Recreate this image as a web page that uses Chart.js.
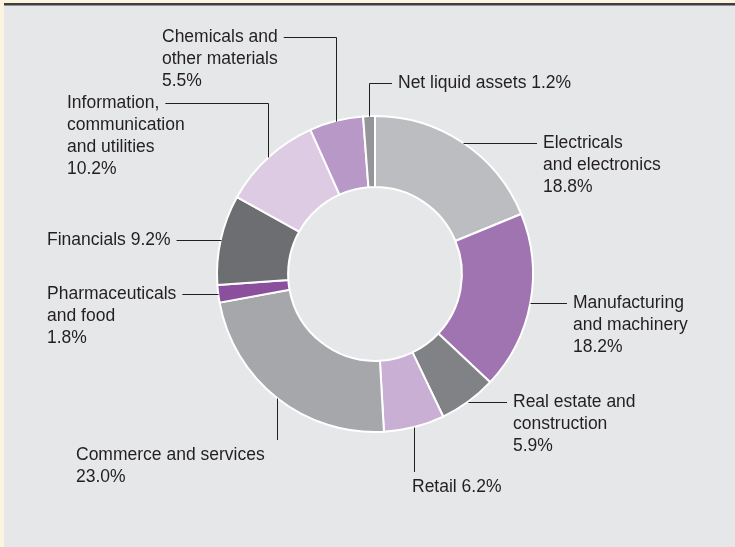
<!DOCTYPE html>
<html>
<head>
<meta charset="utf-8">
<script src="https://cdn.jsdelivr.net/npm/chart.js@4.4.1/dist/chart.umd.min.js"></script>
<style>
  html, body { margin: 0; padding: 0; background: #fbf5df; }
  body { width: 735px; height: 547px; position: relative; overflow: hidden; }
  #panel { position: absolute; left: 4px; top: 3px; width: 760px; height: 580px; background: #e6e7e8; }
  #rule1 { position: absolute; left: 4px; top: 3px; width: 760px; height: 2px; background: #3e3e3f; }
  #rule2 { position: absolute; left: 4px; top: 5px; width: 760px; height: 1px; background: #939393; }
  #wrap { position: absolute; left: 0; top: 0; width: 735px; height: 547px; }
</style>
</head>
<body>
<div id="panel"></div>
<div id="rule1"></div>
<div id="rule2"></div>
<div id="wrap"><canvas id="sectorChart"></canvas></div>
<script>
// Sektor, searah jarum jam mulai dari atas
var categories = [
    "Electricals and electronics",
    "Manufacturing and machinery",
    "Real estate and construction",
    "Retail",
    "Commerce and services",
    "Pharmaceuticals and food",
    "Financials",
    "Information, communication and utilities",
    "Chemicals and other materials",
    "Net liquid assets",
];

// Persentase tiap sektor
var shares = [18.8, 18.2, 5.9, 6.2, 23.0, 1.8, 9.2, 10.2, 5.5, 1.2];

// Teks label, {v} diganti dengan persentase
var labelLines = [
    ["Electricals", "and electronics", "{v}"],
    ["Manufacturing", "and machinery", "{v}"],
    ["Real estate and", "construction", "{v}"],
    ["Retail {v}"],
    ["Commerce and services", "{v}"],
    ["Pharmaceuticals", "and food", "{v}"],
    ["Financials {v}"],
    ["Information,", "communication", "and utilities", "{v}"],
    ["Chemicals and", "other materials", "{v}"],
    ["Net liquid assets {v}"],
];

var sliceColors = [
    "#bcbdc0", "#a074b0", "#818285", "#c9afd3", "#a6a7aa",
    "#8c4f9e", "#6d6e71", "#dccbe3", "#b898c7", "#939598",
];

// Posisi label (layout saja)
var labelLayout = [
    { type: "right", x: 543 },
    { type: "right", x: 573 },
    { type: "right", x: 513 },
    { type: "down", x: 412, y: 487 },
    { type: "down", x: 76, y: 455 },
    { type: "left", x: 47 },
    { type: "left", x: 47 },
    { type: "up-left", x: 67, y: 103 },
    { type: "up-left", x: 162, y: 37 },
    { type: "up-right", x: 398, y: 83 },
];

var FONT = "17.5px 'Liberation Sans', Arial, sans-serif";
var INK = "#231f20";
var LINE_H = 22;
var GAP = 6;

var calloutPlugin = {
    id: "callouts",
    afterDatasetsDraw: function (chart) {
        var ctx = chart.ctx;
        var meta = chart.getDatasetMeta(0);
        ctx.save();
        ctx.font = FONT;
        ctx.fillStyle = INK;
        ctx.strokeStyle = INK;
        ctx.lineWidth = 1;
        ctx.textBaseline = "middle";
        ctx.textAlign = "left";

        meta.data.forEach(function (arc, i) {
            var p = arc.getProps(["x", "y", "startAngle", "endAngle", "outerRadius"], true);
            var mid = (p.startAngle + p.endAngle) / 2;
            var sx = Math.round(p.x + Math.cos(mid) * p.outerRadius) + 0.5;
            var sy = Math.round(p.y + Math.sin(mid) * p.outerRadius) + 0.5;
            var L = labelLayout[i];
            var lines = labelLines[i].map(function (s) {
                return s.replace("{v}", shares[i].toFixed(1) + "%");
            });
            var w0 = ctx.measureText(lines[0]).width;
            var ty;

            ctx.beginPath();
            ctx.moveTo(sx, sy);
            if (L.type === "right") {
                ctx.lineTo(L.x - GAP, sy);
                ty = sy;
            } else if (L.type === "left") {
                ctx.lineTo(L.x + w0 + GAP, sy);
                ty = sy;
            } else if (L.type === "up-right") {
                ctx.lineTo(sx, L.y + 0.5);
                ctx.lineTo(L.x - GAP, L.y + 0.5);
                ty = L.y;
            } else if (L.type === "up-left") {
                ctx.lineTo(sx, L.y + 0.5);
                ctx.lineTo(L.x + w0 + GAP, L.y + 0.5);
                ty = L.y;
            } else {
                ctx.lineTo(sx, L.y - 15);
                ty = L.y;
            }
            ctx.stroke();

            lines.forEach(function (t, k) {
                ctx.fillText(t, L.x, ty + k * LINE_H);
            });
        });
        ctx.restore();
    },
};

var ctx = document.getElementById("sectorChart").getContext("2d");
var sectorChart = new Chart(ctx, {
    type: "doughnut",
    data: {
        labels: categories,
        datasets: [
            {
                data: shares,
                backgroundColor: sliceColors,
                borderColor: "#ffffff",
                borderWidth: 2,
            },
        ],
    },
    options: {
        responsive: true,
        maintainAspectRatio: false,
        animation: false,
        cutout: "55%",
        layout: {
            padding: { left: 216, right: 201, top: 115, bottom: 114 },
        },
        plugins: {
            legend: { display: false },
            tooltip: { enabled: false },
        },
    },
    plugins: [calloutPlugin],
});
</script>
</body>
</html>
